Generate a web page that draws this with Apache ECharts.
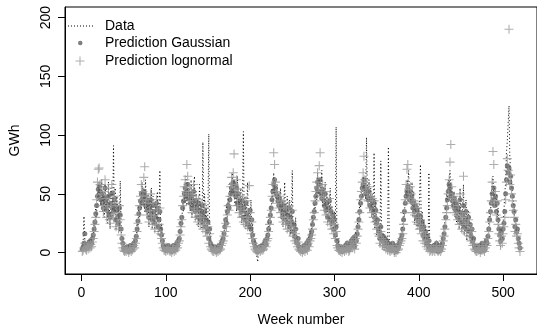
<!DOCTYPE html>
<html><head><meta charset="utf-8">
<script src="https://cdn.jsdelivr.net/npm/echarts@6/dist/echarts.min.js"></script>
<style>html,body{margin:0;padding:0;background:#fff}#c{width:537px;height:332px}</style>
</head><body><div id="c"></div>
<script>
// ---- data (weekly values, week 1..520) ----
const seriesNames = ['Data', 'Prediction Gaussian', 'Prediction lognormal'];
const observed = [
  2,8,31,10,3,1,5,2,6,3,8,4,10, 14,25,20,38,30,52,45,60,48, 40,62,35,50,30,58,38,45,25,60,40,20,55,48,30,91, 35,55,20,48,28,40,18,61,22,10,5,2,0,4,
  1,6,2,0,3,8,1,4,2,9,5,12,10, 25,18,40,30,52,38,60,44,55,35,62,40, 30,50,22,45,35,55,20,48,30,18,40,28,52,15,35, 70,12,25,5,8,2,4,0,6,1,5,3,
  0,3,1,5,2,7,1,4,9,3,12,8, 20,30,22,45,35,58,42,65,40,60,48,55, 35,62,30,50,40,65,28,52,35,45,22,58,30,40,20,94,25, 50,30,40,15,35,101,10,18,4,2,6,
  1,4,0,3,6,2,5,1,8,4,12,9,15, 25,20,40,30,48,35,60,45,55,68,50,62,40, 58,35,65,40,50,30,55,25,45,103,30,48,20,40,60,22,35,18, 45,12,25,6,10,2,0,-3,
  -8,2,5,0,4,8,1,6,3,12,5,15,10, 28,18,40,30,55,42,68,50,62,45,58,38,50, 35,55,28,45,22,40,60,30,25,48,18,35,45,15,30,70, 12,25,8,30,5,15,2,8,0,3,
  2,6,1,4,8,3,10,5,14,8,18,12, 22,30,25,42,35,55,45,68,50,62,58,48,70,40, 55,35,60,30,50,25,45,35,55,20,40,28,15,35,10,107, 8,4,12,2,6,0,3,5,1,4,
  8,2,10,4,0,6,3,12,5,15,8,3,18,10,20, 30,25,45,38,55,48,65,52,60,45,98,50,40, 62,35,55,30,50,25,85,20,45,15,30,10, 20,6,78,10,4,15,2,12,5,8,3,90,
  10,2,8,0,5,3,-2,4,1,6,2,8,5,12,10,18, 25,35,30,50,45,62,58,70,48,55,40,60, 30,52,25,45,35,20,40,28,50,75,22,35, 15,28,10,22,5,18,2,68,8,4,6,1,
  3,8,0,5,10,2,0,4,7,1,5,10,15,20, 28,35,50,45,62,55,70,48,58,40,35,52,30, 48,25,35,42,20,55,30,18,38,58,15,30,45,10,28, 35,12,25,8,20,5,10,2,0,4,
  2,6,1,5,0,3,8,2,4,0,5,10,6,15, 25,35,30,50,58,65,48,55,40,50,30,38,20, 8,5,15,10,25,35,50, 60,85,95,110,125,80,70,60,50, 45,40,25,30,15,20,10,5,2
];
const gaussian = [
  3,5,8,16,6,4,7,5,9,6,10,8,12, 15,20,26,33,40,48,54,57,52, 45,50,42,38,47,55,44,36,40,48,33,30,42,50,38,35, 45,40,28,36,30,25,38,32,20,12,8,4,2,3,
  2,5,3,1,4,6,2,3,5,8,6,10,14, 20,27,33,38,44,50,42,46,52,48,40,45, 36,42,30,38,45,33,28,40,35,25,30,42,38,22,28, 35,20,15,10,6,4,3,2,5,3,6,4,
  2,4,1,3,6,2,5,3,8,6,10,12, 18,25,30,38,44,50,55,48,52,58,46,50, 42,48,38,45,52,40,35,44,38,30,42,36,28,33,40,25,30, 35,22,28,18,26,12,20,8,6,4,3,
  2,5,3,1,4,2,6,3,5,8,10,12,16, 22,28,25,35,40,38,45,50,55,52,60,58,50, 48,55,42,50,38,45,40,35,44,30,38,28,42,33,25,30,22,36, 20,28,15,10,8,5,3,2,
  1,3,5,2,4,6,3,5,8,10,7,12,15, 20,26,32,38,45,52,58,62,55,50,48,44,40, 46,38,42,35,30,40,33,28,36,25,32,38,22,30,26,35, 18,24,14,20,10,8,12,5,3,2,
  4,1,3,6,2,5,8,4,10,7,12,15, 18,24,30,35,42,48,55,60,52,58,62,50,46,54, 45,40,50,36,42,30,38,44,28,35,25,32,20,28,15,22, 10,6,4,3,2,5,1,3,4,2,
  6,3,8,5,2,4,7,10,6,12,8,5,14,10,16, 22,28,35,42,48,55,58,62,56,50,54,48,45, 52,40,46,38,44,35,42,30,36,25,28,20, 18,12,22,15,10,14,8,12,6,10,5,8,
  4,2,6,3,8,5,2,4,1,6,3,5,8,10,12,15, 20,28,35,42,48,52,56,50,45,52,48,44, 38,42,35,40,30,36,28,32,24,30,20,26, 15,22,12,18,8,14,6,10,4,3,5,2,
  3,6,2,5,8,4,1,3,6,2,5,8,12,16, 22,30,38,45,52,58,55,48,50,44,40,46,38, 42,35,30,38,28,45,34,25,32,40,22,28,35,20,26, 30,18,24,14,20,10,12,6,4,3,
  2,5,3,6,1,4,8,3,5,2,6,10,8,14, 20,28,35,42,50,45,55,40,48,35,42,28,20, 15,10,18,12,20,25,35, 50,62,74,68,72,60,65,55,48, 40,35,22,28,18,20,12,8,4
];
const lognormal = [
  1,2,4,8,3,2,5,3,6,4,7,5,9, 12,18,24,30,45,60,71,72,58, 50,58,40,35,52,62,46,30,38,55,28,25,40,58,32,30, 48,42,22,34,26,20,40,28,15,8,4,2,1,2,
  1,3,2,0,2,4,1,2,3,6,4,8,12, 18,25,32,40,48,58,45,52,64,73,42,48, 32,45,26,36,50,30,24,42,32,20,26,45,36,18,24, 38,16,12,8,4,2,2,1,3,2,4,2,
  1,2,0,2,4,1,3,2,6,4,8,10, 15,22,28,40,48,56,62,52,75,65,50,56, 44,52,34,48,58,38,30,46,36,26,45,32,24,30,42,20,26, 38,18,24,14,22,8,16,5,3,2,1,
  1,3,2,0,2,1,4,2,3,6,8,10,14, 18,25,22,32,40,36,48,56,64,58,68,84,55, 50,62,40,54,34,48,38,30,46,26,36,24,44,30,22,28,57,34, 16,26,12,8,5,3,2,1,
  0,2,3,1,2,4,2,3,6,8,5,10,12, 18,24,30,36,48,58,85,75,60,52,50,42,38, 48,34,44,30,26,42,30,24,38,20,28,40,18,26,22,36, 14,20,10,16,8,5,9,3,2,1,
  3,0,2,4,1,3,6,2,8,5,10,12, 15,20,28,34,44,52,60,68,56,74,85,54,48,58, 46,36,52,32,44,26,36,46,24,32,20,28,16,24,12,18, 6,4,2,2,1,3,0,2,3,1,
  4,2,6,3,1,2,5,8,4,10,6,3,12,8,14, 20,26,34,45,52,60,68,82,62,54,58,50,44, 56,38,48,34,46,30,44,26,34,20,24,16, 14,8,18,12,6,10,5,8,3,6,2,5,
  2,1,4,2,6,3,0,2,0,4,2,3,6,8,10,12, 16,24,34,45,58,71,75,54,46,56,50,42, 34,44,32,42,26,38,24,30,20,28,16,22, 10,18,8,14,5,10,3,6,1,2,3,1,
  2,4,1,3,6,2,1,2,4,1,3,6,10,14, 20,28,34,40,50,62,77,92,56,46,38,48,34, 44,32,28,40,24,50,32,20,30,65,18,26,34,16,24, 28,14,20,10,18,6,8,3,2,1,
  1,3,2,4,0,2,6,2,3,1,4,8,6,12, 18,26,34,44,60,86,75,42,52,32,44,24,16, 10,6,14,8,16,22,30, 45,60,80,70,190,58,66,50,44, 36,30,18,24,14,16,8,4,1
];
const xTicks = [0, 100, 200, 300, 400, 500];
const yTicks = [0, 50, 100, 150, 200];
const xAxisTitle = 'Week number';
const yAxisTitle = 'GWh';

// ---- rendering ----
const toPoints = arr => arr.map((v, i) => [i + 1, v]);
const FONT = '"Liberation Sans", Arial, Helvetica, sans-serif';
const plusPath = 'path://M0,4.4h10v1.2H0z M4.4,0h1.2v10h-1.2z';
const dotLinePath = 'path://M0,0h1v1h-1z M3,0h1v1h-1z M6,0h1v1h-1z M9,0h1v1h-1z M12,0h1v1h-1z M15,0h1v1h-1z M18,0h1v1h-1z M21,0h1v1h-1z M24,0h1v1h-1z';
const legendText = pad => ({fontSize: 14, color: '#000', fontFamily: FONT, lineHeight: 16, padding: [0, 0, 0, pad]});
const axisBase = ticks => ({
  axisLine: {show: true, onZero: false, lineStyle: {color: '#000', width: 1}},
  splitLine: {show: false},
  axisTick: {show: true, inside: false, length: 7, lineStyle: {color: '#000', width: 1}, customValues: ticks}
});

const chart = echarts.init(document.getElementById('c'), null, {renderer: 'canvas'});
chart.setOption({
  animation: false,
  backgroundColor: '#fff',
  textStyle: {fontFamily: FONT},
  grid: {left: 65, top: 7, width: 473, height: 268, show: true, borderColor: '#000', borderWidth: 1, backgroundColor: 'transparent', containLabel: false},
  xAxis: Object.assign({
    type: 'value', min: -19.5, max: 540.2,
    name: xAxisTitle, nameLocation: 'middle', nameGap: 39,
    nameTextStyle: {fontSize: 14, color: '#000', fontFamily: FONT},
    axisLabel: {fontSize: 14, color: '#000', margin: 12, customValues: xTicks, fontFamily: FONT}
  }, axisBase(xTicks)),
  yAxis: Object.assign({
    type: 'value', min: -18.2, max: 209,
    name: yAxisTitle, nameLocation: 'middle', nameGap: 43, nameRotate: 90,
    nameTextStyle: {fontSize: 14, color: '#000', fontFamily: FONT},
    axisLabel: {fontSize: 14, color: '#000', margin: 12, rotate: 90, customValues: yTicks, fontFamily: FONT}
  }, axisBase(yTicks)),
  legend: [
    {data: [{name: seriesNames[0], icon: dotLinePath}], left: 68, top: 18, padding: 0, itemWidth: 25, itemHeight: 12,
     itemStyle: {borderWidth: 0}, textStyle: legendText(7), selectedMode: false},
    {data: [{name: seriesNames[1], icon: 'circle'}], left: 78, top: 35, padding: 0, itemWidth: 4.5, itemHeight: 4.5,
     itemStyle: {borderWidth: 0}, textStyle: legendText(17.5), selectedMode: false},
    {data: [{name: seriesNames[2], icon: plusPath}], left: 75.5, top: 53, padding: 0, itemWidth: 9, itemHeight: 9,
     itemStyle: {borderWidth: 0}, textStyle: legendText(15.5), selectedMode: false}
  ],
  series: [
    {name: seriesNames[0], type: 'line', data: toPoints(observed), symbol: 'none', color: '#000',
     lineStyle: {color: '#000', width: 1, type: [1, 2.5]}, z: 2, silent: true},
    {name: seriesNames[1], type: 'scatter', data: toPoints(gaussian), symbol: 'circle', symbolSize: 5,
     itemStyle: {color: '#5e5e5e'}, z: 3, silent: true},
    {name: seriesNames[2], type: 'scatter', data: toPoints(lognormal), symbol: plusPath, symbolSize: 9,
     itemStyle: {color: '#9a9a9a'}, z: 4, silent: true}
  ]
});
</script></body></html>
